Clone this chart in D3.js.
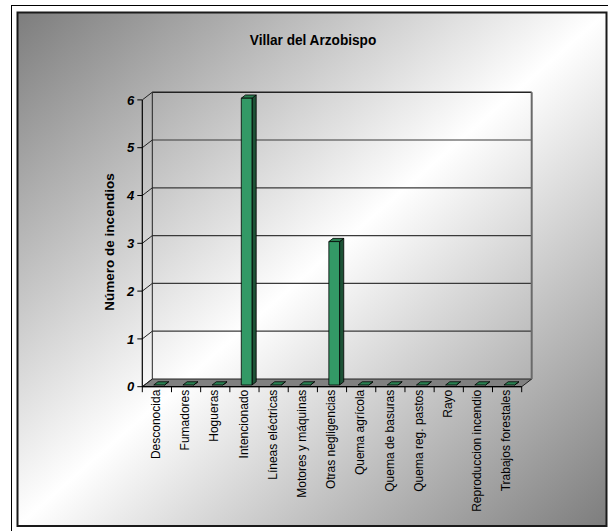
<!DOCTYPE html>
<html>
<head>
<meta charset="utf-8">
<script src="https://cdn.jsdelivr.net/npm/d3@7"></script>
<style>
  body { margin: 0; background: #fff; }
  svg { display: block; }
</style>
</head>
<body>
<svg id="chart" width="608" height="531"></svg>
<script>
const title = "Villar del Arzobispo";
const yTitle = "Número de incendios";
const categories = ["Desconocida", "Fumadores", "Hogueras", "Intencionado", "Líneas eléctricas",
  "Motores y máquinas", "Otras negligencias", "Quema agrícola", "Quema de basuras",
  "Quema reg. pastos", "Rayo", "Reproduccion incendio", "Trabajos forestales"];
const values = [0, 0, 0, 6, 0, 0, 3, 0, 0, 0, 0, 0, 0];
const yTicks = [0, 1, 2, 3, 4, 5, 6];

const svg = d3.select("#chart");

// depth of the 3d box
const DX = 10, DY = 7.7;
const proj = (x, y, z) => [x + DX * z, y - DY * z];

const x = d3.scaleBand().domain(categories).range([142.3, 521.7]).padding(0);
const y = d3.scaleLinear().domain([0, 6]).range([386.7, 99.9]);

// BACKGROUND
const defs = svg.append("defs");
const grad = defs.append("linearGradient").attr("id", "bg")
  .attr("x1", 0).attr("y1", 0).attr("x2", 1).attr("y2", 1);
grad.append("stop").attr("offset", "0%").attr("stop-color", "#7d7d7d");
grad.append("stop").attr("offset", "50%").attr("stop-color", "#ffffff");
grad.append("stop").attr("offset", "100%").attr("stop-color", "#7d7d7d");

svg.append("rect").attr("x", 11.5).attr("y", 5.5).attr("width", 620).attr("height", 540)
  .attr("fill", "#fff").attr("stroke", "#000").attr("stroke-width", 1);
svg.append("rect").attr("x", 17.5).attr("y", 12.5).attr("width", 589).attr("height", 513.5)
  .attr("fill", "url(#bg)").attr("stroke", "#1a1a1a").attr("stroke-width", 2);

// title is a condensed bold face in the original
svg.append("text")
  .attr("transform", "translate(313,45) scale(0.88,1)")
  .attr("text-anchor", "middle")
  .attr("font-family", "Arial, 'Liberation Sans', sans-serif")
  .attr("font-weight", "bold")
  .attr("font-size", 15.5)
  .text(title);

const plot = svg.append("g");
const x0 = x.range()[0], x1 = x.range()[1];

// FLOOR
const floorPts = [proj(x0, y(0), 0), proj(x1, y(0), 0), proj(x1, y(0), 1), proj(x0, y(0), 1)];
plot.append("polygon").attr("points", floorPts.join(" "))
  .attr("fill", "#808080").attr("stroke", "#222").attr("stroke-width", 1);

// BACK WALL gridlines
plot.selectAll(".grid").data(yTicks.filter(d => d > 0)).enter().append("line")
  .attr("class", "grid")
  .attr("x1", x0 + DX).attr("x2", x1 + DX)
  .attr("y1", d => y(d) - DY).attr("y2", d => y(d) - DY)
  .attr("stroke", d => d === 6 ? "#222" : "#3a3a3a").attr("stroke-width", d => d === 6 ? 1.5 : 1.2);

plot.append("line")
  .attr("x1", x1 + DX).attr("x2", x1 + DX)
  .attr("y1", y(6) - DY).attr("y2", y(0) - DY)
  .attr("stroke", "#6a6a6a").attr("stroke-width", 2);
plot.append("line")
  .attr("x1", x0 + DX).attr("x2", x0 + DX)
  .attr("y1", y(6) - DY).attr("y2", y(0) - DY)
  .attr("stroke", "#222").attr("stroke-width", 1);

// LEFT WALL diagonals and axis
plot.selectAll(".diag").data(yTicks).enter().append("line")
  .attr("class", "diag")
  .attr("x1", x0).attr("y1", d => y(d))
  .attr("x2", x0 + DX).attr("y2", d => y(d) - DY)
  .attr("stroke", "#222").attr("stroke-width", 1);

plot.append("line")
  .attr("x1", x0).attr("x2", x0).attr("y1", y(6)).attr("y2", y(0))
  .attr("stroke", "#000").attr("stroke-width", 1.2);

plot.selectAll(".ytick").data(yTicks).enter().append("line")
  .attr("class", "ytick")
  .attr("x1", x0 - 5).attr("x2", x0).attr("y1", d => y(d)).attr("y2", d => y(d))
  .attr("stroke", "#000").attr("stroke-width", 1);

plot.selectAll(".ylab").data(yTicks).enter().append("text")
  .attr("class", "ylab")
  .attr("x", x0 - 8).attr("y", d => y(d))
  .attr("dy", "0.36em")
  .attr("text-anchor", "end")
  .attr("font-family", "Arial, 'Liberation Sans', sans-serif")
  .attr("font-weight", "bold").attr("font-style", "italic")
  .attr("font-size", 13)
  .text(d => d);

svg.append("text")
  .attr("transform", "translate(114,242) rotate(-90)")
  .attr("text-anchor", "middle")
  .attr("font-family", "Arial, 'Liberation Sans', sans-serif")
  .attr("font-weight", "bold")
  .attr("font-size", 13.5)
  .text(yTitle);

// BARS
const bw = x.bandwidth() * 0.367;
const z0 = 0.22, z1 = 0.64;
const bars = plot.selectAll(".bar").data(categories.map((c, i) => ({ c, v: values[i] })))
  .enter().append("g").attr("class", "bar");

function barX(d) { return x(d.c) + (x.bandwidth() - bw) / 2; }

bars.append("polygon")
  .attr("points", d => {
    const a = barX(d) + bw;
    return [proj(a, y(0), z0), proj(a, y(0), z1), proj(a, y(d.v), z1), proj(a, y(d.v), z0)].join(" ");
  })
  .attr("fill", "#1d5236").attr("stroke", "#000").attr("stroke-width", 0.8);

bars.append("polygon")
  .attr("points", d => {
    const a = barX(d), b = a + bw;
    return [proj(a, y(d.v), z0), proj(b, y(d.v), z0), proj(b, y(d.v), z1), proj(a, y(d.v), z1)].join(" ");
  })
  .attr("fill", "#2a8052").attr("stroke", "#000").attr("stroke-width", 0.8);

bars.filter(d => d.v > 0).append("polygon")
  .attr("points", d => {
    const a = barX(d), b = a + bw;
    return [proj(a, y(d.v), z0), proj(b, y(d.v), z0), proj(b, y(0), z0), proj(a, y(0), z0)].join(" ");
  })
  .attr("fill", "#339966").attr("stroke", "#000").attr("stroke-width", 0.8);

// X AXIS
plot.append("line")
  .attr("x1", x0).attr("x2", x1).attr("y1", y(0)).attr("y2", y(0))
  .attr("stroke", "#000").attr("stroke-width", 1.2);

plot.selectAll(".xtick").data(d3.range(categories.length + 1)).enter().append("line")
  .attr("class", "xtick")
  .attr("x1", i => x0 + i * x.step()).attr("x2", i => x0 + i * x.step())
  .attr("y1", y(0)).attr("y2", y(0) + 5.5)
  .attr("stroke", "#000").attr("stroke-width", 1);

plot.selectAll(".xlab").data(categories).enter().append("text")
  .attr("class", "xlab")
  .attr("transform", d => "translate(" + [x(d) + x.bandwidth() / 2 - 1, y(0) + 3] + ") rotate(-90)")
  .attr("text-anchor", "end")
  .attr("dy", "0.35em")
  .attr("font-family", "Arial, 'Liberation Sans', sans-serif")
  .attr("font-size", 12)
  .text(d => d);
</script>
</body>
</html>
